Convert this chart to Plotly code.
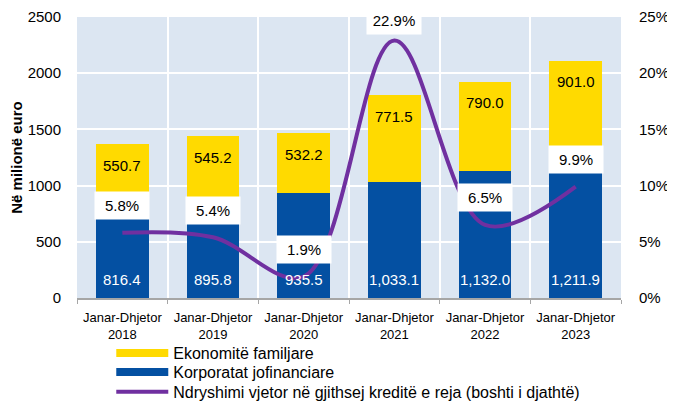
import plotly.graph_objects as go

categories = ["Janar-Dhjetor<br>2018", "Janar-Dhjetor<br>2019", "Janar-Dhjetor<br>2020",
              "Janar-Dhjetor<br>2021", "Janar-Dhjetor<br>2022", "Janar-Dhjetor<br>2023"]
households = [550.7, 545.2, 532.2, 771.5, 790.0, 901.0]
corporates = [816.4, 895.8, 935.5, 1033.1, 1132.0, 1211.9]
annual_change = [5.8, 5.4, 1.9, 22.9, 6.5, 9.9]

name_hh = "Ekonomitë familjare"
name_corp = "Korporatat jofinanciare"
name_line = "Ndryshimi vjetor në gjithsej kreditë e reja (boshti i djathtë)"

FONT = "Liberation Sans, Arial, sans-serif"
YELLOW = "#FFDA00"
BLUE = "#0450A2"
PURPLE = "#7030A0"
BG = "#DCE6F2"

fig = go.Figure()
fig.add_trace(go.Bar(x=categories, y=corporates, name=name_corp, marker_color=BLUE,
                     marker_line_width=0, showlegend=False))
fig.add_trace(go.Bar(x=categories, y=households, name=name_hh, marker_color=YELLOW,
                     marker_line_width=0, showlegend=False))
fig.add_trace(go.Scatter(x=categories, y=annual_change, name=name_line, yaxis="y2",
                         mode="lines", line=dict(color=PURPLE, width=4, shape="spline", smoothing=1.0),
                         showlegend=False))

# legend-only entries (wide swatches like the original), one legend per row
fig.add_trace(go.Scatter(x=[None], y=[None], name=name_hh, mode="lines",
                         line=dict(color=YELLOW, width=8), legend="legend"))
fig.add_trace(go.Scatter(x=[None], y=[None], name=name_corp, mode="lines",
                         line=dict(color=BLUE, width=8), legend="legend2"))
fig.add_trace(go.Scatter(x=[None], y=[None], name=name_line, mode="lines",
                         line=dict(color=PURPLE, width=4), legend="legend3"))

annotations = []
for c, h, b, p in zip(categories, households, corporates, annual_change):
    annotations.append(dict(x=c, y=b + h, yref="y", text=f"{h:,.1f}", showarrow=False,
                            yshift=-21, font=dict(family=FONT, size=15, color="black")))
    annotations.append(dict(x=c, y=0, yref="y", text=f"{b:,.1f}", showarrow=False,
                            yshift=19, font=dict(family=FONT, size=15, color="white")))
    annotations.append(dict(x=c, y=p, yref="y2", text=f"{p:.1f}%", showarrow=False,
                            yshift=27 if p < 20 else 20, bgcolor="white", width=44,
                            borderpad=5,
                            font=dict(family=FONT, size=15, color="black")))

def leg(yval):
    return dict(x=0.063, xanchor="left", y=yval, yanchor="middle", orientation="v",
                font=dict(family=FONT, size=16), itemwidth=52,
                bgcolor="rgba(0,0,0,0)")

fig.update_layout(
    width=667, height=394,
    margin=dict(l=69, r=54, t=9, b=104, autoexpand=False),
    barmode="stack", bargap=0.42,
    plot_bgcolor=BG, paper_bgcolor="white",
    font=dict(family=FONT, size=15, color="black"),
    showlegend=True,
    legend=leg(-0.196),
    legend2=leg(-0.264),
    legend3=leg(-0.334),
    xaxis=dict(type="category", showgrid=True, gridcolor="white", gridwidth=2,
               tickson="boundaries", ticks="outside", ticklen=4, tickcolor="#A6A6A6",
               showline=True, linecolor="#A6A6A6", linewidth=1.5, automargin=False,
               ticklabelstandoff=7,
               tickfont=dict(family=FONT, size=13), zeroline=False),
    yaxis=dict(range=[0, 2500], dtick=500, showgrid=True, gridcolor="white", gridwidth=2,
               ticks="outside", ticklen=12, tickcolor="rgba(0,0,0,0)", zeroline=False,
               automargin=False,
               title=dict(text="<b>Në milionë euro</b>", font=dict(family=FONT, size=15), standoff=2),
               tickfont=dict(family=FONT, size=15)),
    yaxis2=dict(range=[0, 25], dtick=5, overlaying="y", side="right", showgrid=False,
                ticksuffix="%", ticks="outside", ticklen=14, tickcolor="rgba(0,0,0,0)",
                zeroline=False, automargin=False, tickfont=dict(family=FONT, size=15)),
    annotations=annotations,
)

fig.write_html("out.html")
